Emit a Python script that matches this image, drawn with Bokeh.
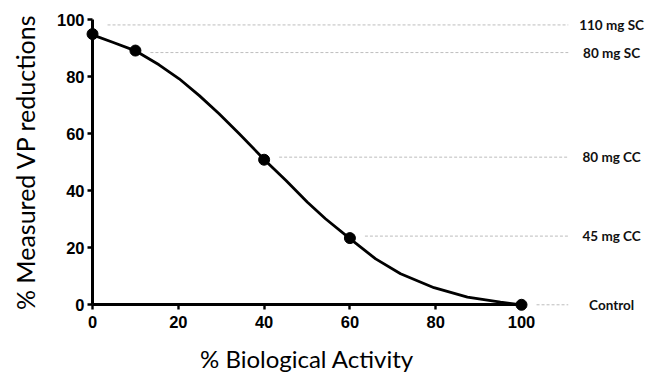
from bokeh.plotting import figure
from bokeh.models import Range1d, FixedTicker, ColumnDataSource
from bokeh.core.properties import value
from bokeh.embed import file_html
from bokeh.resources import INLINE

# Measured points
point_x = [0, 10, 40, 60, 100]
point_y = [95, 89.2, 50.9, 23.4, 0]

# Fitted curve
curve_x = [0, 4.7, 9.9, 15.5, 20.2, 24.9, 29.5, 34.2, 40, 45.1, 50.1, 54.3, 60,
           66, 71.8, 79.6, 87.4, 95.1, 100]
curve_y = [94.7, 92.1, 89.2, 84.2, 79.3, 73.4, 67.0, 60.0, 51.0, 43.6, 36.0, 30.2, 23.2,
           16.1, 10.9, 6.0, 2.7, 0.9, 0]

# Reference levels (dose groups)
group_names = ["110 mg SC", "80 mg SC", "80 mg CC", "45 mg CC", "Control"]
group_level = [98.2, 88.5, 51.8, 24.1, 0]
group_from_x = [0, 10, 40, 60, 100]

x_ticks = [0, 20, 40, 60, 80, 100]
y_ticks = [0, 20, 40, 60, 80, 100]

p = figure(width=648, height=374,
           x_range=Range1d(-21.45, 129.6), y_range=Range1d(-24.46, 106.77),
           min_border=0, min_border_left=0, min_border_right=0,
           min_border_top=0, min_border_bottom=0,
           outline_line_color=None, toolbar_location=None,
           output_backend="svg", background_fill_color="white")

p.xgrid.visible = False
p.ygrid.visible = False

GAP = 3.5
END_X = 110.9
LABEL_X = 121

src_levels = ColumnDataSource(dict(
    x0=[gx + GAP for gx in group_from_x],
    x1=[END_X] * len(group_names),
    y=group_level,
    lx=[LABEL_X] * len(group_names),
    name=group_names,
))
p.segment(x0="x0", y0="y", x1="x1", y1="y", source=src_levels,
          line_color="#bdbdbd", line_width=1, line_dash="3 2")
p.text(x="lx", y="y", text="name", source=src_levels,
       text_align="center", text_baseline="middle",
       text_font=value("Lato"), text_font_style="bold",
       text_font_size="13.5px", text_color="#111111")

p.line(curve_x, curve_y, line_color="black", line_width=2.8, line_join="round")
p.scatter(point_x, point_y, size=11, color="black")

for ax in (p.xaxis[0], p.yaxis[0]):
    ax.fixed_location = 0
    ax.bounds = (0, 100)
    ax.axis_line_width = 3
    ax.axis_line_color = "black"
    ax.major_tick_line_width = 2.4
    ax.major_tick_line_color = "black"
    ax.major_tick_in = 0
    ax.major_tick_out = 5
    ax.minor_tick_line_color = None
    ax.major_label_text_font = "Liberation Sans"
    ax.major_label_text_font_style = "bold"
    ax.major_label_text_font_size = "16.5px"
    ax.major_label_text_color = "black"
    ax.axis_label_text_font = "Lato"
    ax.axis_label_text_font_style = "normal"
    ax.axis_label_text_color = "black"

p.xaxis[0].ticker = FixedTicker(ticks=x_ticks)
p.yaxis[0].ticker = FixedTicker(ticks=y_ticks)
p.xaxis[0].major_label_standoff = 6
p.yaxis[0].major_label_standoff = 3

p.xaxis[0].axis_label = "% Biological Activity"
p.xaxis[0].axis_label_text_font_size = "24px"
p.xaxis[0].axis_label_standoff = 13
p.yaxis[0].axis_label = "% Measured VP reductions"
p.yaxis[0].axis_label_text_font_size = "25px"
p.yaxis[0].axis_label_standoff = 14

open("out.html", "w").write(file_html(p, INLINE))
